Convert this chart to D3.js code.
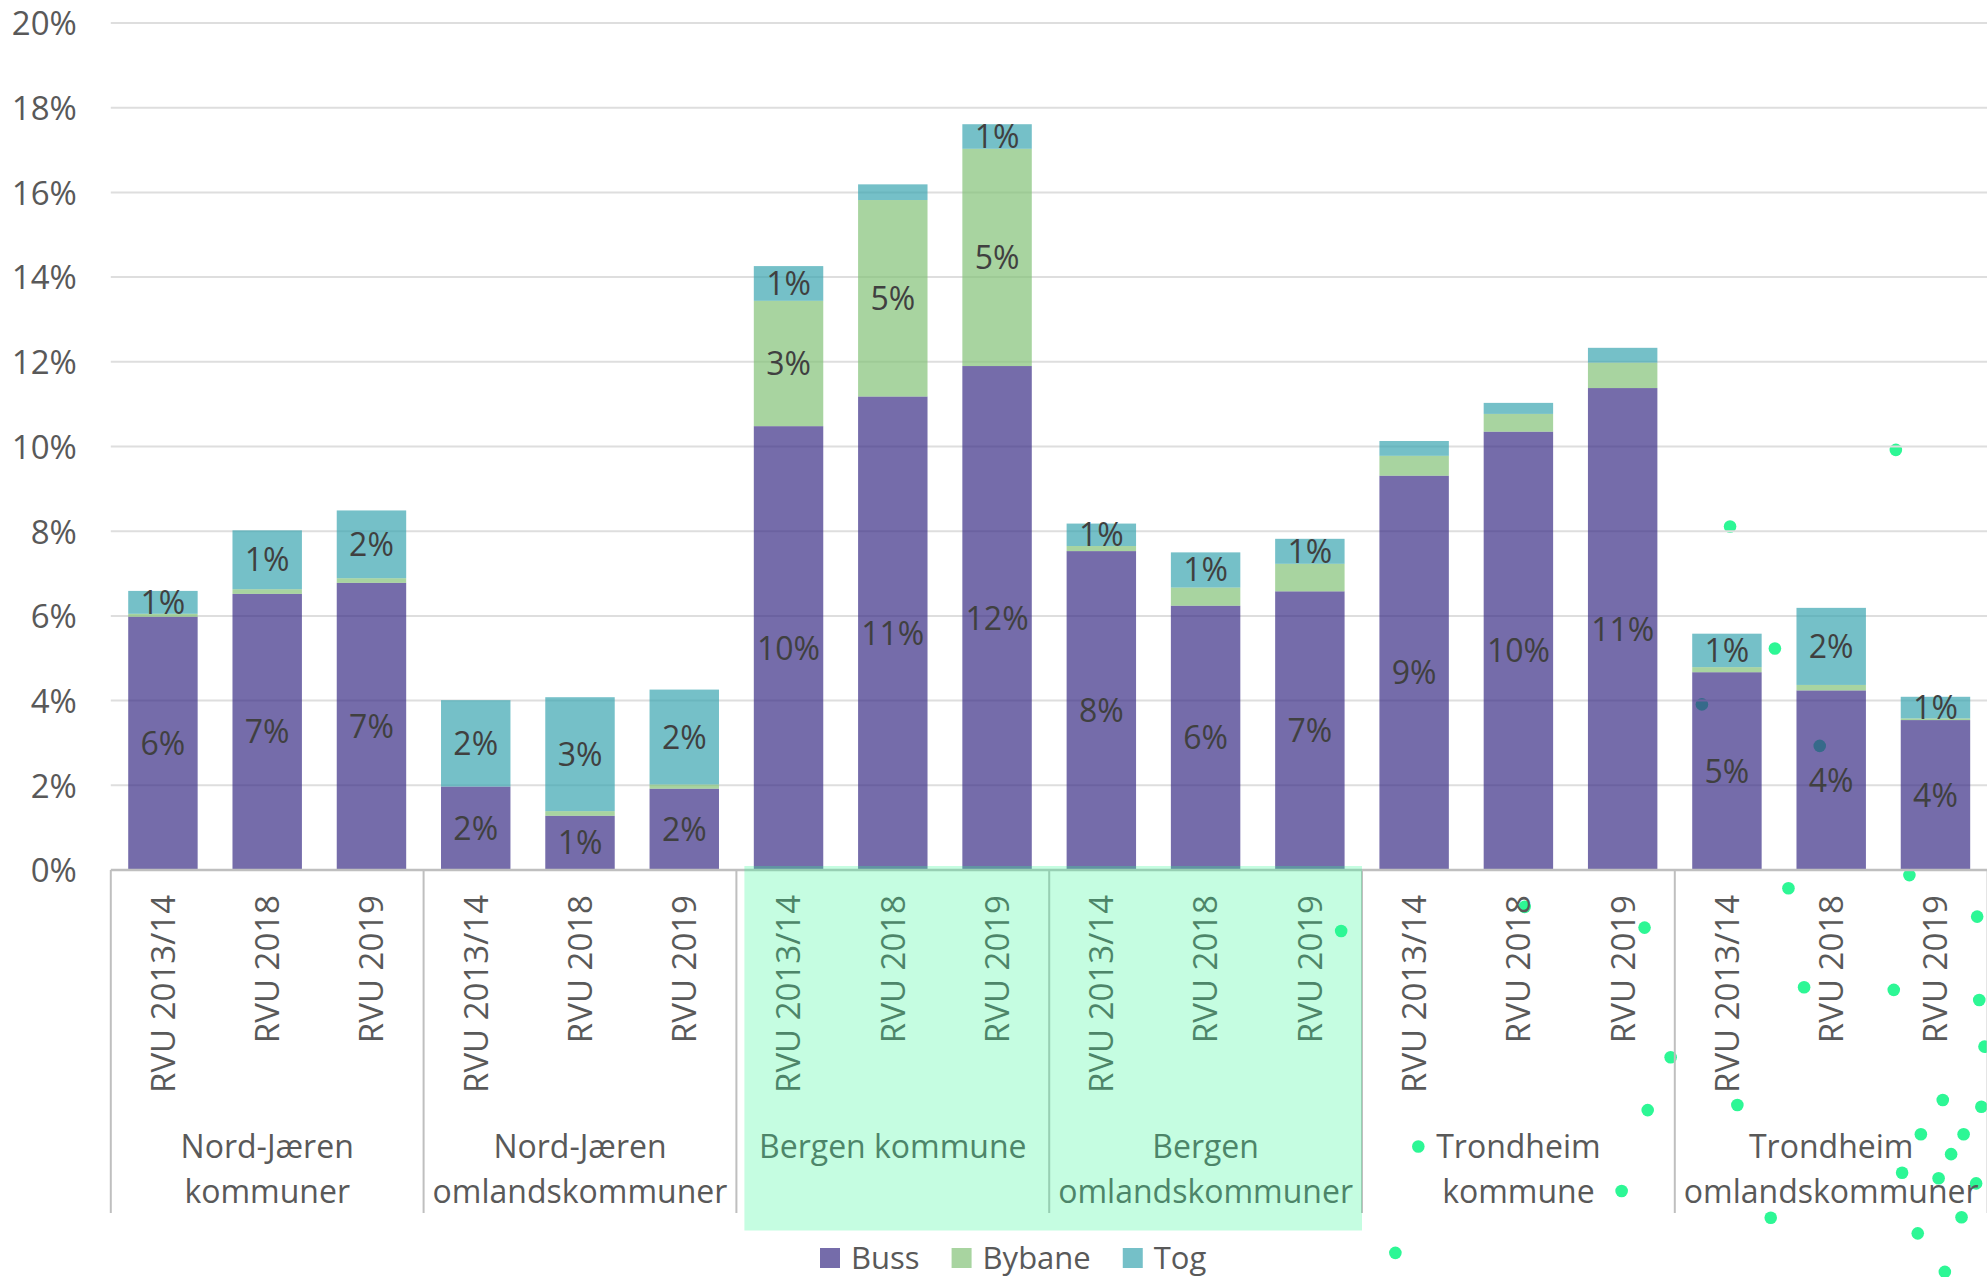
<!DOCTYPE html>
<html>
<head>
<meta charset="utf-8">
<script src="https://cdn.jsdelivr.net/npm/d3@7"></script>
<style>
html, body { margin: 0; padding: 0; background: #ffffff; }
svg { display: block; font-family: "Open Sans", sans-serif; }
</style>
</head>
<body>
<svg id="chart" width="1987" height="1277"></svg>
<script>
// ---------- DATA ----------
const groupLabels = [
  ["Nord-Jæren", "kommuner"],
  ["Nord-Jæren", "omlandskommuner"],
  ["Bergen kommune"],
  ["Bergen", "omlandskommuner"],
  ["Trondheim", "kommune"],
  ["Trondheim", "omlandskommuner"]
];
const surveys = ["RVU 2013/14", "RVU 2018", "RVU 2019"];
const seriesNames = ["Buss", "Bybane", "Tog"];

// share of trips (%), 18 bars = 6 groups x 3 surveys
const buss   = [5.98, 6.52, 6.78, 1.97, 1.28, 1.92, 10.48, 11.18, 11.90, 7.53, 6.24, 6.58, 9.31, 10.35, 11.38, 4.67, 4.24, 3.54];
const bybane = [0.07, 0.11, 0.11, 0.00, 0.11, 0.10, 2.96, 4.64, 5.13, 0.12, 0.43, 0.65, 0.47, 0.42, 0.60, 0.12, 0.13, 0.04];
const tog    = [0.54, 1.39, 1.60, 2.04, 2.69, 2.24, 0.82, 0.37, 0.58, 0.53, 0.83, 0.59, 0.35, 0.26, 0.35, 0.79, 1.82, 0.51];

// which data labels are shown
const showBuss   = [1,1,1,1,1,1,1,1,1,1,1,1,1,1,1,1,1,1];
const showBybane = [0,0,0,0,0,0,1,1,1,0,0,0,0,0,0,0,0,0];
const showTog    = [1,1,1,1,1,1,1,0,1,1,1,1,0,0,0,1,1,1];

const yTicks = [0, 2, 4, 6, 8, 10, 12, 14, 16, 18, 20];

// highlighted groups (index into groupLabels)
const highlightGroups = [2, 3];

// decorative dots: x in category-slot units, y in % units
const dotsX = [17.12, 15.53, 15.96, 15.26, 16.39, 16.09, 17.25, 13.56, 11.80, 14.71, 17.90, 16.24, 17.10, 17.92, 14.96, 17.97, 14.74, 15.60, 17.57, 17.94, 12.54, 17.36, 17.77, 17.65, 14.49, 17.18, 17.53, 17.89, 15.92, 17.75, 17.33, 12.32, 17.59];
const dotsY = [9.92, 8.11, 5.23, 3.91, 2.93, -0.43, -0.12, -0.87, -1.44, -1.36, -1.10, -2.77, -2.83, -3.07, -4.42, -4.17, -5.67, -5.55, -5.43, -5.59, -6.53, -6.24, -6.24, -6.71, -7.58, -7.15, -7.28, -7.40, -8.21, -8.20, -8.58, -9.04, -9.49];

// ---------- SETUP ----------
const colors = { Buss: "#3a2d86", Bybane: "#83c277", Tog: "#3ba5b1" };
const barOpacity = 0.7;
const dotColor = "#2df795";
const textGray = "#595959";
const labelDark = "#404040";

const svg = d3.select("#chart");
const W = 1987, H = 1277;
const left = 110.8, right = 1987.6;
const n = buss.length;

const table = d3.range(n).map(i => ({
  i, Buss: buss[i], Bybane: bybane[i], Tog: tog[i],
  show: { Buss: showBuss[i], Bybane: showBybane[i], Tog: showTog[i] }
}));

const x = d3.scaleBand().domain(d3.range(n)).range([left, right])
  .paddingInner(0.334).paddingOuter(0.167);
const slot = d3.scaleLinear().domain([0, n]).range([left, right]);
const y = d3.scaleLinear().domain([0, 20]).range([870, 23]);

svg.append("rect").attr("width", W).attr("height", H).attr("fill", "#fff");

// decorative dots (bottom layer)
svg.append("g").selectAll("circle").data(dotsX.map((d, k) => [d, dotsY[k]])).join("circle")
  .attr("cx", d => slot(d[0])).attr("cy", d => y(d[1])).attr("r", 6.3)
  .attr("fill", dotColor);

// gridlines
svg.append("g").selectAll("line").data(yTicks.filter(t => t > 0)).join("line")
  .attr("x1", left).attr("x2", right)
  .attr("y1", d => y(d)).attr("y2", d => y(d))
  .attr("stroke", "#dedede").attr("stroke-width", 2);

// y axis labels
const yAxis = d3.axisLeft(y).tickValues(yTicks).tickFormat(d => d + "%").tickSize(0).tickPadding(34);
const yg = svg.append("g").attr("transform", `translate(${left},0)`).call(yAxis);
yg.select(".domain").remove();
yg.selectAll("text").attr("font-family", "Open Sans").attr("font-size", 33)
  .attr("fill", textGray).attr("dy", "0.36em");

// stacked bars
const stack = d3.stack().keys(seriesNames);
const series = stack(table);
const barG = svg.append("g");
series.forEach(s => {
  barG.append("g").selectAll("rect").data(s).join("rect")
    .attr("x", d => x(d.data.i))
    .attr("width", x.bandwidth())
    .attr("y", d => y(d[1]))
    .attr("height", d => Math.max(0, y(d[0]) - y(d[1])))
    .attr("fill", colors[s.key])
    .attr("fill-opacity", barOpacity);
});

// x axis line
svg.append("line").attr("x1", left).attr("x2", right)
  .attr("y1", y(0)).attr("y2", y(0))
  .attr("stroke", "#bfbfbf").attr("stroke-width", 2.5);

// group separators
svg.append("g").selectAll("line").data(d3.range(groupLabels.length + 1)).join("line")
  .attr("x1", g => slot(g * 3)).attr("x2", g => slot(g * 3))
  .attr("y1", y(0)).attr("y2", 1213)
  .attr("stroke", "#bfbfbf").attr("stroke-width", 2);

// data labels
const lblG = svg.append("g");
series.forEach(s => {
  lblG.append("g").selectAll("text").data(s.filter(d => d.data.show[s.key])).join("text")
    .attr("x", d => x(d.data.i) + x.bandwidth() / 2)
    .attr("y", d => y((d[0] + d[1]) / 2))
    .attr("dy", "0.36em")
    .attr("text-anchor", "middle")
    .attr("font-size", 32)
    .attr("fill", labelDark)
    .text(d => Math.round(d.data[s.key]) + "%");
});

// category tick labels (rotated)
svg.append("g").selectAll("text").data(d3.range(n)).join("text")
  .attr("transform", i => `translate(${x(i) + x.bandwidth() / 2},895) rotate(-90)`)
  .attr("text-anchor", "end")
  .attr("dy", "0.36em")
  .attr("font-size", 33)
  .attr("fill", textGray)
  .text(i => surveys[i % 3]);

// group labels
const gl = svg.append("g").selectAll("text").data(groupLabels).join("text")
  .attr("text-anchor", "middle")
  .attr("font-size", 32)
  .attr("fill", textGray);
gl.each(function(lines, g) {
  const t = d3.select(this);
  lines.forEach((ln, k) => {
    t.append("tspan").attr("x", slot(g * 3 + 1.5)).attr("y", 1158 + k * 44.5).text(ln);
  });
});

// highlight overlay
const hx0 = slot(d3.min(highlightGroups) * 3) + 8;
const hx1 = slot((d3.max(highlightGroups) + 1) * 3);
svg.append("rect")
  .attr("x", hx0).attr("y", y(0) - 4)
  .attr("width", hx1 - hx0).attr("height", 1230.5 - (y(0) - 4))
  .attr("fill", dotColor).attr("fill-opacity", 0.28);

// legend
const leg = svg.append("g");
let lx = 820;
seriesNames.forEach(name => {
  leg.append("rect").attr("x", lx).attr("y", 1248).attr("width", 20).attr("height", 20)
    .attr("fill", colors[name]).attr("fill-opacity", barOpacity);
  const t = leg.append("text").attr("x", lx + 31).attr("y", 1258).attr("dy", "0.36em")
    .attr("font-size", 31).attr("fill", textGray).text(name);
  lx += 31 + t.node().getComputedTextLength() + 32;
});
</script>
</body>
</html>
